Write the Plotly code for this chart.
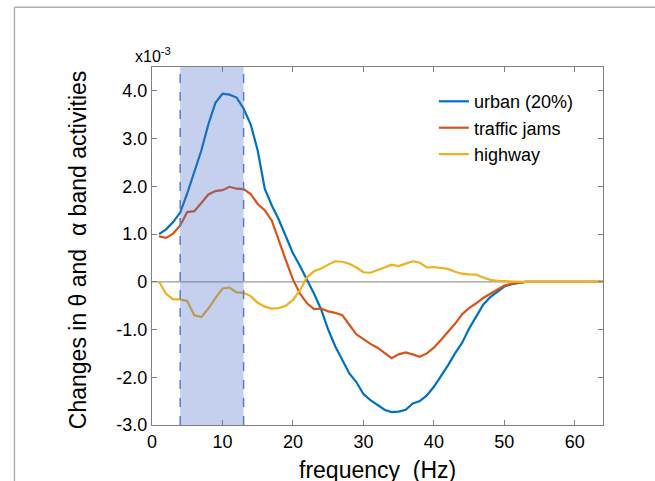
import plotly.graph_objects as go

freq = list(range(1, 65))

urban = [1.00, 1.10, 1.25, 1.45, 1.85, 2.30, 2.75, 3.30, 3.75, 3.94,
         3.92, 3.86, 3.63, 3.30, 2.75, 1.95, 1.60, 1.30, 0.95, 0.60,
         0.33, 0.05, -0.25, -0.58, -1.00, -1.35, -1.65, -1.92, -2.10, -2.35,
         -2.48, -2.58, -2.68, -2.73, -2.72, -2.68, -2.55, -2.50, -2.38, -2.20,
         -1.98, -1.75, -1.50, -1.28, -0.98, -0.72, -0.48, -0.32, -0.20, -0.10,
         -0.05, -0.02] + [0.0] * 12

traffic = [0.95, 0.92, 1.01, 1.18, 1.46, 1.48, 1.65, 1.83, 1.90, 1.92,
           1.99, 1.95, 1.94, 1.84, 1.63, 1.50, 1.28, 0.85, 0.45, 0.05,
           -0.25, -0.45, -0.57, -0.56, -0.62, -0.65, -0.70, -0.90, -1.10, -1.20,
           -1.30, -1.38, -1.50, -1.60, -1.52, -1.48, -1.52, -1.57, -1.50, -1.38,
           -1.22, -1.05, -0.88, -0.68, -0.55, -0.45, -0.34, -0.25, -0.16, -0.08,
           -0.04, -0.02] + [0.0] * 12

highway = [0.00, -0.25, -0.37, -0.37, -0.40, -0.70, -0.74, -0.56, -0.34, -0.14,
           -0.12, -0.22, -0.23, -0.30, -0.44, -0.52, -0.56, -0.55, -0.50, -0.38,
           -0.18, 0.10, 0.22, 0.28, 0.36, 0.43, 0.42, 0.38, 0.30, 0.20,
           0.19, 0.24, 0.30, 0.36, 0.33, 0.38, 0.43, 0.40, 0.30, 0.31,
           0.29, 0.27, 0.21, 0.17, 0.155, 0.15, 0.09, 0.04, 0.02, 0.01] + [0.0] * 14

series_names = ["urban (20%)", "traffic jams", "highway"]
series_colors = ["#0072BD", "#D95319", "#EDB120"]

band = [4, 13]
x_ticks = [0, 10, 20, 30, 40, 50, 60]
y_ticks = [-3, -2, -1, 0, 1, 2, 3, 4]
y_ticktext = ["-3.0", "-2.0", "-1.0", "0", "1.0", "2.0", "3.0", "4.0"]

FONT = "Liberation Sans, Arial, sans-serif"

fig = go.Figure()
for name, vals, col in zip(series_names, [urban, traffic, highway], series_colors):
    fig.add_trace(go.Scatter(x=freq, y=vals, mode="lines", name=name,
                             line=dict(color=col, width=2.2)))

# zero line
fig.add_shape(type="line", xref="paper", yref="y", x0=0, x1=1, y0=0, y1=0,
              line=dict(color="#9a9a9a", width=1.2), layer="below")
# band
fig.add_shape(type="rect", xref="x", yref="paper", x0=band[0], x1=band[1], y0=0, y1=1,
              fillcolor="rgb(70,110,200)", opacity=0.32, line=dict(width=0), layer="above")
for bx in band:
    fig.add_shape(type="line", xref="x", yref="paper", x0=bx, x1=bx, y0=0, y1=1,
                  line=dict(color="#5b7cc8", width=1.5, dash="dash"), layer="above")

# outer frame of figure
fig.add_shape(type="line", xref="paper", yref="paper", x0=-0.305, x1=1.3, y0=1.167, y1=1.167,
              line=dict(color="#b0b0b0", width=1.5))
fig.add_shape(type="line", xref="paper", yref="paper", x0=-0.305, x1=-0.305, y0=1.167, y1=-0.3,
              line=dict(color="#b0b0b0", width=1.5))

fig.add_annotation(text="x10<sup>-3</sup>", xref="paper", yref="paper",
                   x=0.047, y=1.0, xanchor="right", yanchor="bottom", showarrow=False,
                   font=dict(family=FONT, size=16, color="black"))
fig.add_annotation(text="frequency  (Hz)", xref="paper", yref="paper",
                   x=0.5, y=-0.083, xanchor="center", yanchor="top", showarrow=False,
                   font=dict(family=FONT, size=23, color="black"))
fig.add_annotation(text="Changes in θ and  α band activities", xref="paper", yref="paper",
                   x=-0.165, y=0.49, xanchor="center", yanchor="middle", showarrow=False,
                   textangle=-90, font=dict(family=FONT, size=23, color="black"))

axis_common = dict(showline=True, linecolor="#808080", linewidth=1.3, mirror="ticks",
                   ticks="inside", ticklen=5, tickcolor="#808080", tickwidth=1.2,
                   showgrid=False, zeroline=False,
                   tickfont=dict(family=FONT, size=18, color="black"))

fig.update_layout(
    width=655, height=481,
    margin=dict(l=152, r=52, t=67, b=56),
    paper_bgcolor="white", plot_bgcolor="white",
    xaxis=dict(range=[0, 64], tickvals=x_ticks, **axis_common),
    yaxis=dict(range=[-3, 4.5], tickvals=y_ticks, ticktext=y_ticktext, **axis_common),
    legend=dict(x=0.625, y=0.955, xanchor="left", yanchor="top",
                bgcolor="rgba(0,0,0,0)", font=dict(family=FONT, size=18, color="black"),
                tracegroupgap=0),
    showlegend=True,
)

fig.write_html("out.html")
